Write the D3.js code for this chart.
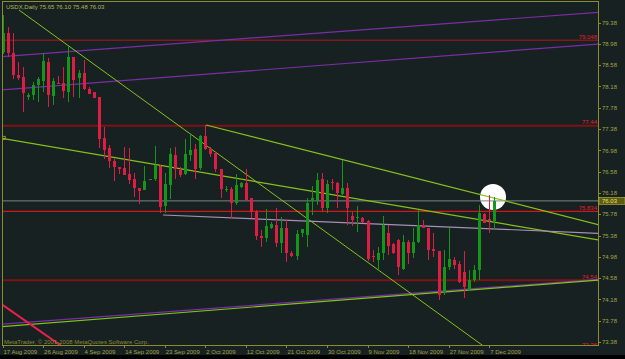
<!DOCTYPE html>
<html>
<head>
<meta charset="utf-8">
<script src="https://cdn.jsdelivr.net/npm/d3@7/dist/d3.min.js"></script>
<style>
  html, body { margin: 0; padding: 0; background: #000; }
  svg { display: block; }
  text { font-family: "Liberation Sans", Arial, sans-serif; font-size: 6px; }
</style>
</head>
<body>
<div id="chart"></div>
<script>
(function () {

  // ---- data -------------------------------------------------------
  const OPEN = [78.83,79.18,78.80,78.39,78.36,77.99,78.02,78.20,78.28,78.64,
    78.00,78.25,78.24,78.08,78.73,78.33,78.44,78.14,78.07,77.98,
    77.22,77.03,76.78,76.67,76.65,76.53,76.44,76.27,76.24,76.43,
    76.45,76.68,75.93,76.33,76.89,76.61,76.53,76.89,77.00,76.64,
    77.25,77.00,76.93,76.62,76.25,76.25,75.99,76.29,76.36,76.08,
    75.83,75.38,75.33,75.53,75.58,75.23,75.53,75.05,75.00,75.42,
    75.39,76.03,76.05,76.44,75.89,76.39,76.37,76.16,76.28,75.75,
    75.70,75.70,75.66,75.00,74.92,75.05,75.42,75.22,75.30,74.76,
    75.26,75.05,75.26,75.58,75.53,75.12,75.08,74.32,74.78,74.92,
    74.85,74.70,74.36,74.54,74.73,75.78,75.69,75.65];
  const HIGH = [79.52,79.30,79.19,78.64,78.55,78.05,78.27,78.36,78.80,78.71,
    78.33,78.38,78.54,78.94,78.74,78.49,78.68,78.17,78.08,77.99,
    77.42,77.08,76.81,76.67,77.05,77.02,76.55,76.27,76.69,76.45,
    77.06,76.70,76.55,77.03,77.04,76.67,77.20,77.29,77.10,77.27,
    77.45,77.04,76.95,76.62,76.31,76.29,76.54,76.39,76.62,76.08,
    75.86,75.48,75.87,75.64,75.89,75.73,75.67,75.08,75.48,75.50,
    76.08,76.31,76.55,76.55,76.42,76.45,76.39,76.79,76.37,75.83,
    75.93,75.72,75.67,75.11,75.16,75.75,75.58,75.23,75.31,75.39,
    75.30,75.53,75.86,75.67,75.53,75.42,75.08,75.11,75.53,74.97,
    74.91,75.08,74.73,74.83,75.95,75.80,76.14,76.10];
  const LOW = [78.79,78.74,78.31,78.30,77.70,77.92,77.92,77.89,78.08,77.80,
    77.83,78.22,77.97,77.89,77.99,77.96,78.12,78.04,77.96,77.02,
    76.81,76.64,76.41,76.53,76.52,76.35,76.11,75.97,76.23,76.42,
    76.41,75.80,75.80,76.06,76.45,76.48,76.52,76.77,76.45,76.61,
    76.99,76.85,76.58,76.08,76.20,75.70,75.95,76.27,76.02,75.70,
    75.30,75.17,75.25,75.50,75.17,75.06,74.89,74.98,74.92,75.36,
    75.17,75.77,75.95,75.83,75.80,76.23,75.89,76.14,75.58,75.56,
    75.45,75.61,74.91,74.88,74.76,74.92,75.01,75.03,74.64,74.73,
    74.85,74.95,75.23,75.53,74.92,74.97,74.17,74.26,74.73,74.76,
    74.48,74.20,74.33,74.51,74.54,75.61,75.42,75.48];
  const CLOSE = [79.18,78.80,78.39,78.34,78.05,78.02,78.21,78.31,78.66,78.02,
    78.28,78.23,78.09,78.73,78.30,78.43,78.14,78.04,77.97,77.19,
    76.99,76.77,76.67,76.63,76.52,76.42,76.27,76.22,76.41,76.45,
    76.70,75.92,76.35,76.91,76.62,76.52,76.91,76.99,76.62,77.25,
    77.00,76.91,76.62,76.25,76.26,75.99,76.33,76.37,76.05,75.83,
    75.37,75.34,75.55,75.60,75.23,75.52,75.05,75.00,75.41,75.50,
    75.99,76.08,76.42,75.89,76.35,76.36,76.17,76.27,75.89,75.68,
    75.73,75.64,74.93,74.97,75.05,75.58,75.18,75.05,74.79,75.25,
    75.05,75.26,75.58,75.53,75.11,75.08,74.26,74.79,74.93,74.83,
    74.51,74.42,74.54,74.73,75.80,75.62,75.66,76.03];

  const PRICE_TICKS = [79.38, 78.98, 78.58, 78.18, 77.78, 77.38, 76.98, 76.58,
    76.18, 75.78, 75.38, 74.98, 74.58, 74.18, 73.78, 73.38];

  const DATE_BARS = [0, 8, 16, 24, 32, 40, 48, 56, 64, 72, 80, 88, 96];
  const DATE_LABELS = ["17 Aug 2009", "26 Aug 2009", "4 Sep 2009", "14 Sep 2009",
    "23 Sep 2009", "2 Oct 2009", "12 Oct 2009", "21 Oct 2009", "30 Oct 2009",
    "9 Nov 2009", "18 Nov 2009", "27 Nov 2009", "7 Dec 2009"];

  // horizontal levels (the 73.36 one sits under the time axis, only its label peeks out)
  const LEVEL_PRICES = [79.048, 77.44, 75.834, 74.54];
  const LEVEL_LABELS = ["79.048", "77.44", "75.834", "74.54"];
  const LEVEL_COLORS = ["#b3171c", "#7d1316", "#d4151b", "#7d1316"];
  const LEVEL_WIDTHS = [1, 2, 1.3, 2];
  const LOW_LEVEL = 73.36;

  const BID = 76.03;

  // trend lines: [bar, price] -> [bar, price]
  const TRENDS = [
    { name: "purpleTop",    from: [-0.5, 78.738], to: [117.5, 79.571] },
    { name: "purpleMid",    from: [-0.5, 78.112], to: [117.5, 78.976] },
    { name: "purpleLow",    from: [-0.5, 73.712], to: [117.5, 74.557] },
    { name: "greenLow",     from: [-0.5, 73.667], to: [117.5, 74.544] },
    { name: "greenLong",    from: [3.25, 79.615], to: [100, 72.95] },
    { name: "greenUpper",   from: [40.14, 77.455], to: [117.5, 75.585] },
    { name: "greenMiddle",  from: [-0.16, 77.205], to: [117.5, 75.296] },
    { name: "lavender",     from: [31.66, 75.765], to: [117.5, 75.421] },
    { name: "pink",         from: [-0.5, 74.112], to: [14, 73.147] }
  ];
  const TREND_STYLE = {
    purpleTop:   { color: "#7a2ea6", width: 1.2 },
    purpleMid:   { color: "#7a2ea6", width: 1.2 },
    purpleLow:   { color: "#7a2ea6", width: 1.2 },
    greenLow:    { color: "#7fc41a", width: 1.2 },
    greenLong:   { color: "#86c21c", width: 1 },
    greenUpper:  { color: "#86c21c", width: 1.2 },
    greenMiddle: { color: "#86c21c", width: 1.2 },
    lavender:    { color: "#a98fb4", width: 1.2 },
    pink:        { color: "#e8204c", width: 2 }
  };

  // highlight circle (bar, price)
  const MARK = [96.75, 76.103];

  // ---- layout -----------------------------------------------------
  const W = 625, H = 359;
  const P = { left: 2, top: 1, right: 598, bottom: 345 };
  const BG = "#172121";
  const FG = "#8c8c2a";
  const TXT = "#a3a348";

  const x = d3.scaleLinear().domain([0, 97]).range([2.5, 494.3]);
  const y = d3.scaleLinear().domain([73.38, 79.38]).range([342, 22.5]);

  const svg = d3.select("#chart").append("svg")
    .attr("width", W)
    .attr("height", H);

  svg.append("rect").attr("width", W).attr("height", H).attr("fill", BG);
  svg.append("rect").attr("x", 0).attr("y", 355).attr("width", W).attr("height", H - 355)
    .attr("fill", "#000");

  svg.append("clipPath").attr("id", "plot-clip")
    .append("rect")
    .attr("x", P.left).attr("y", P.top)
    .attr("width", P.right - P.left).attr("height", P.bottom - P.top);

  const plot = svg.append("g").attr("clip-path", "url(#plot-clip)");

  // circle behind everything
  plot.append("circle")
    .attr("cx", x(MARK[0]))
    .attr("cy", y(MARK[1]))
    .attr("r", 13)
    .attr("fill", "#ffffff");

  // horizontal levels
  plot.selectAll("line.level")
    .data(LEVEL_PRICES)
    .enter()
    .append("line")
    .attr("class", "level")
    .attr("x1", P.left).attr("x2", P.right)
    .attr("y1", d => y(d)).attr("y2", d => y(d))
    .attr("stroke", (d, i) => LEVEL_COLORS[i])
    .attr("stroke-width", (d, i) => LEVEL_WIDTHS[i]);

  plot.selectAll("text.level")
    .data(LEVEL_PRICES)
    .enter()
    .append("text")
    .attr("class", "level")
    .attr("x", P.right - 1)
    .attr("y", d => y(d) - 1.5)
    .attr("text-anchor", "end")
    .attr("fill", "#e0202a")
    .text((d, i) => LEVEL_LABELS[i]);

  plot.append("text")
    .attr("x", P.right - 1)
    .attr("y", y(LOW_LEVEL) + 4)
    .attr("text-anchor", "end")
    .attr("fill", "#e0202a")
    .text(LOW_LEVEL.toFixed(2));

  // bid line
  plot.append("line")
    .attr("x1", P.left).attr("x2", P.right)
    .attr("y1", y(BID)).attr("y2", y(BID))
    .attr("stroke", "#7d8585")
    .attr("stroke-width", 1);

  // trend lines
  plot.selectAll("line.trend")
    .data(TRENDS)
    .enter()
    .append("line")
    .attr("class", "trend")
    .attr("x1", d => x(d.from[0])).attr("y1", d => y(d.from[1]))
    .attr("x2", d => x(d.to[0])).attr("y2", d => y(d.to[1]))
    .attr("stroke", d => TREND_STYLE[d.name].color)
    .attr("stroke-width", d => TREND_STYLE[d.name].width);

  // small anchor square on middle green line
  const mid = TRENDS.find(t => t.name === "greenMiddle");
  plot.append("rect")
    .attr("x", x(mid.from[0]) + 0.5).attr("y", y(mid.from[1]) - 2)
    .attr("width", 3).attr("height", 3)
    .attr("fill", "none")
    .attr("stroke", "#a8b028")
    .attr("stroke-width", 0.8);

  // candles
  const bars = OPEN.map((o, i) => ({ i, o, h: HIGH[i], l: LOW[i], c: CLOSE[i] }));
  const UP = "#15961a", DOWN = "#dc1e45";

  const cg = plot.selectAll("g.candle")
    .data(bars)
    .enter()
    .append("g")
    .attr("class", "candle")
    .attr("shape-rendering", "crispEdges");

  cg.append("line")
    .attr("x1", d => Math.round(x(d.i)) + 0.5)
    .attr("x2", d => Math.round(x(d.i)) + 0.5)
    .attr("y1", d => y(d.h))
    .attr("y2", d => y(d.l))
    .attr("stroke", d => d.c >= d.o ? UP : DOWN)
    .attr("stroke-width", 1);

  cg.append("rect")
    .attr("x", d => Math.round(x(d.i)) - 1)
    .attr("width", 3)
    .attr("y", d => y(Math.max(d.o, d.c)))
    .attr("height", d => Math.max(1, Math.abs(y(d.o) - y(d.c))))
    .attr("fill", d => d.c >= d.o ? UP : DOWN);

  // frame
  svg.append("path")
    .attr("d", `M${P.left + 0.5},${P.bottom + 0.5}V${P.top + 0.5}H${P.right + 0.5}V${P.bottom + 0.5}H${P.left + 0.5}`)
    .attr("fill", "none")
    .attr("stroke", FG)
    .attr("stroke-width", 1)
    .attr("shape-rendering", "crispEdges");

  // price axis
  const yAxis = svg.append("g");
  yAxis.selectAll("line")
    .data(PRICE_TICKS)
    .enter()
    .append("line")
    .attr("x1", P.right).attr("x2", P.right + 3)
    .attr("y1", d => Math.round(y(d)) + 0.5).attr("y2", d => Math.round(y(d)) + 0.5)
    .attr("stroke", FG);
  yAxis.selectAll("text")
    .data(PRICE_TICKS)
    .enter()
    .append("text")
    .attr("x", P.right + 4)
    .attr("y", d => y(d) + 2.2)
    .attr("fill", TXT)
    .text(d => d.toFixed(2));

  // bid price box
  svg.append("rect")
    .attr("x", P.right + 1).attr("y", y(BID) - 3.5)
    .attr("width", 26).attr("height", 7)
    .attr("fill", "#5c5c12")
    .attr("stroke", "#b8b848")
    .attr("stroke-width", 0.6);
  svg.append("text")
    .attr("x", P.right + 4)
    .attr("y", y(BID) + 2.2)
    .attr("fill", "#e6e070")
    .text(BID.toFixed(2));

  // time axis
  const xAxis = svg.append("g");
  xAxis.selectAll("line")
    .data(DATE_BARS)
    .enter()
    .append("line")
    .attr("x1", d => Math.round(x(d)) + 0.5).attr("x2", d => Math.round(x(d)) + 0.5)
    .attr("y1", P.bottom).attr("y2", P.bottom + 3)
    .attr("stroke", FG);
  xAxis.selectAll("text")
    .data(DATE_BARS)
    .enter()
    .append("text")
    .attr("x", d => x(d) + 1)
    .attr("y", 353.5)
    .attr("fill", TXT)
    .text((d, i) => DATE_LABELS[i]);

  // captions
  svg.append("text")
    .attr("x", 6).attr("y", 9)
    .attr("fill", "#b4b45a")
    .text("USDX,Daily  75.65 76.10 75.48 76.03");

  svg.append("text")
    .attr("x", 4).attr("y", 344)
    .attr("fill", "#8a8a3c")
    .text("MetaTrader, \u00a9 2001-2008 MetaQuotes Software Corp.");

})();
</script>
</body>
</html>
